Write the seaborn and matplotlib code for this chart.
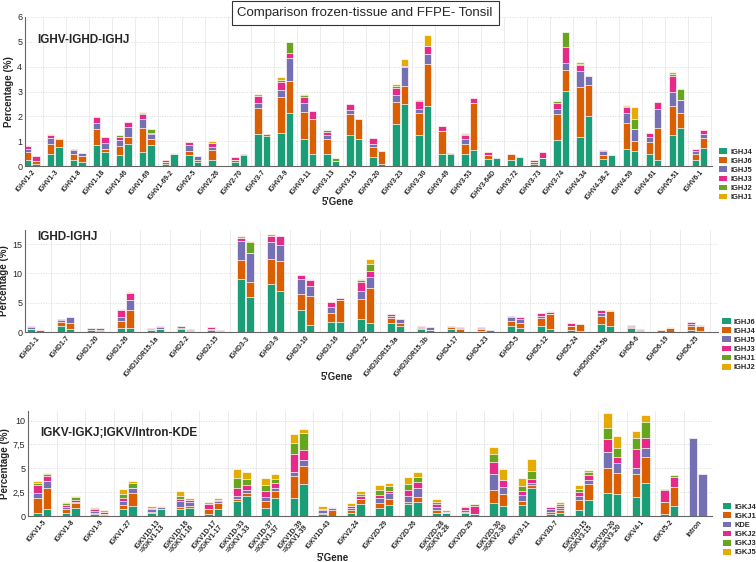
import numpy as np
import pandas as pd
import seaborn as sns
import matplotlib.pyplot as plt
from matplotlib.patches import Patch

sns.set_theme(style='white')
plt.rcParams['font.family'] = ['Liberation Sans', 'DejaVu Sans']

colors = ['#1b9e77', '#d95f02', '#7570b3', '#e7298a', '#66a61e', '#e6ab02']
samples = ['frozen', 'FFPE']

# ---- panel 1: IGHV-IGHD-IGHJ ----
p1_genes = ['IGHV1-2', 'IGHV1-3', 'IGHV1-8', 'IGHV1-18', 'IGHV1-46', 'IGHV1-69', 'IGHV1-69-2',
            'IGHV2-5', 'IGHV2-26', 'IGHV2-70', 'IGHV3-7', 'IGHV3-9', 'IGHV3-11', 'IGHV3-13',
            'IGHV3-15', 'IGHV3-20', 'IGHV3-23', 'IGHV3-30', 'IGHV3-49', 'IGHV3-53', 'IGHV3-64D',
            'IGHV3-72', 'IGHV3-73', 'IGHV3-74', 'IGHV4-34', 'IGHV4-38-2', 'IGHV4-59', 'IGHV4-61',
            'IGHV5-51', 'IGHV6-1']
p1_segments = ['IGHJ4', 'IGHJ6', 'IGHJ5', 'IGHJ3', 'IGHJ2', 'IGHJ1']
# per gene: [segment values] for frozen, FFPE
p1_frozen = [
    [.26, .31, .13, .10, .02, .02], [.50, .40, .23, .11, .02, .01], [.26, .24, .13, .07, 0, 0],
    [.84, .67, .24, .21, 0, .04], [.43, .37, .24, .11, .09, 0], [.57, .97, .34, .20, .07, .03],
    [.10, .06, 0, .07, 0, 0], [.46, .13, .27, .11, 0, 0], [.26, .37, .14, .16, 0, .06],
    [.16, .07, 0, .13, 0, 0], [1.27, 1.05, .23, .27, 0, .06], [1.31, 1.46, .30, .33, .07, .10],
    [1.08, 1.08, .37, .23, .10, .04], [.50, .58, .16, .14, .07, 0], [1.24, .84, .18, .24, 0, 0],
    [.36, .41, .11, .26, 0, 0], [1.68, .91, .25, .32, .08, .07], [1.24, .91, .13, .34, .02, .02],
    [.50, .91, 0, .20, 0, 0], [.50, .40, .17, .17, .04, .03], [.30, .16, 0, .11, 0, 0],
    [.23, .24, 0, 0, 0, .02], [.09, .07, 0, .10, 0, 0], [1.04, 1.05, .19, .25, .09, 0],
    [1.15, 2.05, .61, .24, .06, .07], [.30, .16, .13, .04, 0, 0], [.70, 1.02, .43, .24, .04, .03],
    [.47, .48, .23, .13, 0, 0], [1.24, 1.19, .57, .61, .09, .07], [.26, .24, .11, .09, 0, 0]]
p1_ffpe = [
    [.10, .10, .02, .17, 0, 0], [.75, .35, 0, 0, 0, .02], [.18, .22, .14, 0, 0, 0],
    [.57, .11, .25, .24, 0, 0], [.90, .27, .41, .20, 0, 0], [.84, .23, .20, .04, .20, 0],
    [.50, 0, 0, 0, 0, .02], [.17, .09, .13, 0, 0, 0], [0, 0, 0, 0, 0, 0],
    [.43, .07, 0, 0, 0, 0], [1.22, .06, 0, 0, 0, 0], [2.12, 1.31, .92, .20, .44, 0],
    [.50, 1.38, .02, .33, 0, 0], [.20, 0, 0, 0, .12, 0], [1.08, .80, 0, 0, 0, 0],
    [.10, .51, 0, 0, 0, 0], [2.50, .74, .73, .04, 0, .30], [2.43, 1.68, .38, .36, 0, .41],
    [.47, .06, 0, 0, 0, 0], [.66, 1.87, 0, .20, 0, 0], [.32, 0, 0, 0, 0, 0],
    [.36, 0, 0, 0, 0, 0], [.34, 0, 0, .21, 0, 0], [3.03, .85, .27, .63, .61, 0],
    [2.03, 1.24, .34, 0, 0, 0], [.43, 0, 0, 0, 0, 0], [.61, .40, .46, 0, .41, .48],
    [.26, 1.29, .73, .29, 0, 0], [1.55, .60, .51, 0, .43, 0], [.73, .38, .16, .18, 0, 0]]

# ---- panel 2: IGHD-IGHJ ----
p2_genes = ['IGHD1-1', 'IGHD1-7', 'IGHD1-20', 'IGHD1-26', 'IGHD1/OR15-1a', 'IGHD2-2', 'IGHD2-15',
            'IGHD3-3', 'IGHD3-9', 'IGHD3-10', 'IGHD3-16', 'IGHD3-22', 'IGHD3/OR15-3a',
            'IGHD3/OR15-3b', 'IGHD4-17', 'IGHD4-23', 'IGHD5-5', 'IGHD5-12', 'IGHD5-24',
            'IGHD5/OR15-5b', 'IGHD6-6', 'IGHD6-19', 'IGHD6-25']
p2_segments = ['IGHJ6', 'IGHJ4', 'IGHJ5', 'IGHJ3', 'IGHJ1', 'IGHJ2']
p2_frozen = [
    [.57, 0, .3, .2, 0, 0], [1.0, .65, .45, .2, 0, 0], [.4, 0, .2, 0, 0, 0],
    [.7, 1.2, .65, 1.15, 0, .2], [.35, 0, .2, .15, 0, 0], [.5, .25, .25, 0, 0, 0],
    [.3, .27, 0, .28, 0, 0], [9.0, 3.2, 3.4, .5, 0, .3], [8.2, 4.3, 2.9, 1.0, 0, .4],
    [3.75, 2.75, 2.6, .55, 0, 0], [1.7, 1.5, 1.1, .76, 0, 0], [2.3, 3.3, 1.45, 1.55, .3, .2],
    [1.5, .9, .4, .3, 0, 0], [.45, .25, .15, .15, 0, 0], [.57, .28, .15, .1, 0, 0],
    [.2, .37, .1, .18, 0, 0], [1.1, .7, .7, .3, 0, 0], [1.1, 1.3, .4, .4, 0, 0],
    [.35, .65, .1, .5, 0, 0], [1.3, 1.5, .5, .4, 0, 0], [.7, .2, .15, .15, 0, 0],
    [0, .4, 0, 0, 0, 0], [.3, .7, .35, .35, 0, 0]]
p2_ffpe = [
    [0, .3, 0, 0, 0, 0], [.5, 1.0, 1.05, 0, 0, 0], [.25, .15, .35, 0, 0, 0],
    [.75, 3.05, 1.6, 1.2, 0, .3], [.5, 0, .3, .2, 0, 0], [.1, .3, .1, .07, 0, 0],
    [0, .22, .1, .08, 0, 0], [6.0, 2.5, 4.9, 0, 1.9, .3], [7.0, 5.1, 2.8, 1.5, 0, 0],
    [1.2, 4.95, 1.65, 1.1, 0, .2], [1.7, 3.76, 0, .29, 0, 0], [1.5, 5.95, 1.85, 1.1, 1.2, .9],
    [1.0, .5, .8, 0, 0, 0], [.3, 0, .6, 0, 0, 0], [0, .45, .2, .2, 0, 0],
    [0, 0, .4, 0, 0, 0], [.7, .9, .55, .4, 0, 0], [.57, 2.53, 0, .3, 0, .1],
    [.15, 1.15, 0, .1, 0, 0], [1.0, 2.6, 0, 0, 0, .15], [.2, .15, .15, 0, 0, 0],
    [0, .7, 0, 0, 0, .15], [.15, .85, 0, .2, 0, 0]]

# ---- panel 3: IGKV-IGKJ;IGKV/Intron-KDE ----
p3_genes = ['IGKV1-5', 'IGKV1-8', 'IGKV1-9', 'IGKV1-27', 'IGKV1D-13\n=IGKV1-13',
            'IGKV1D-16\n=IGKV1-16', 'IGKV1D-17\n=IGKV1-17', 'IGKV1D-33\n=IGKV1-33',
            'IGKV1D-37\n=IGKV1-37', 'IGKV1D-39\n=IGKV1-39', 'IGKV1D-43', 'IGKV2-24',
            'IGKV2D-29', 'IGKV2D-26', 'IGKV2D-28\n=IGKV2-28', 'IGKV2D-29',
            'IGKV2D-30\n=IGKV2-30', 'IGKV3-11', 'IGKV3D-7', 'IGKV3D-15\n=IGKV3-15',
            'IGKV3D-20\n=IGKV3-20', 'IGKV4-1', 'IGKV5-2', 'Intron']
p3_segments = ['IGKJ4', 'IGKJ1', 'KDE', 'IGKJ2', 'IGKJ3', 'IGKJ5']
p3_frozen = [
    [.35, 1.55, .5, .8, .25, .25], [.28, .42, .25, .25, .2, .1], [.17, .18, .15, .2, .16, .11],
    [.75, .45, .4, .3, .45, .45], [.28, .17, .25, .16, 0, .17], [.7, .27, .58, .28, .24, .53],
    [.17, .58, 0, .53, 0, .22], [1.55, .25, .34, .79, 1.1, .87], [.86, .69, .42, .63, .6, .83],
    [1.9, 2.24, .52, 1.79, 1.21, .96], [.2, .15, .28, .14, 0, .33], [.28, .32, .2, .2, 0, .34],
    [.8, .54, .53, .28, .6, .55], [1.25, .25, .55, .67, .68, .7], [.35, .27, .28, .4, .18, .35],
    [.35, .1, .17, .35, 0, .1], [1.38, 1.31, 1.72, 1.21, .86, .76], [1.14, .45, .58, .45, .52, .83],
    [.2, .25, .24, .21, 0, .07], [.62, 1.04, .41, .45, .27, .41], [2.45, 2.58, 1.63, 1.37, 1.14, 1.6],
    [2.0, 2.41, .62, 1.94, 1.2, .69], [.2, 1.28, 0, 1.21, .17, 0], [0, 0, 8.2, 0, 0, 0]]
p3_ffpe = [
    [.75, 2.15, .8, .45, .25, .15], [.86, .52, .12, .2, .3, .05], [.07, .18, 0, .2, 0, .15],
    [1.1, 1.3, .5, 0, .55, .25], [.7, 0, .23, 0, 0, .17], [.86, .17, .42, .2, 0, .25],
    [.75, .63, .24, .1, 0, .18], [2.14, .26, .36, .52, .58, .79], [1.9, .7, .33, .52, .41, .54],
    [3.34, 1.94, .58, 1.04, 1.82, .42], [0, .63, .25, 0, 0, .07], [1.27, .49, 0, .34, .2, .3],
    [1.16, .64, .6, .24, .53, .28], [1.48, .54, .93, .6, .55, .52], [.3, 0, .15, 0, 0, .17],
    [.2, 0, 0, .83, .21, 0], [1.03, 1.25, .75, .76, 0, 1.14], [2.93, .27, .25, .45, .86, 1.21],
    [.28, .34, .24, .21, .17, .24], [1.72, 1.66, .41, .55, .32, .17], [2.34, 2.14, 1.04, .68, .97, 1.21],
    [3.45, 2.75, .9, 1.07, 1.73, .7], [1.03, 2.0, 0, 1.04, .27, 0], [0, 0, 4.4, 0, 0, 0]]


def long_table(frozen, ffpe, segments):
    rows = []
    for i in range(len(frozen)):
        for s, vals in zip(samples, [frozen[i], ffpe[i]]):
            cum = np.cumsum(vals)
            for k, seg in enumerate(segments):
                rows.append({'gene': i, 'sample': s, 'segment': seg, 'top': cum[k]})
    return pd.DataFrame(rows)


def panel(ax, genes, frozen, ffpe, segments, title, width, title_y, legend_y, legend_x):
    df = long_table(frozen, ffpe, segments)
    n = len(genes)
    # draw cumulative tops from the highest segment down so lower ones sit on top
    for k in range(len(segments) - 1, -1, -1):
        sub = df[df['segment'] == segments[k]]
        sns.barplot(data=sub, x='gene', y='top', hue='sample', order=list(range(n)),
                    hue_order=samples, palette=[colors[k], colors[k]], width=width, gap=0.12,
                    dodge=True, legend=False, edgecolor='white', linewidth=0.5,
                    saturation=1, ax=ax)
    ax.set_xticks(range(n))
    ax.set_xticklabels(genes, rotation=50, ha='right', rotation_mode='anchor',
                       fontsize=4.9, fontweight='bold', multialignment='right',
                       linespacing=0.95)
    ax.set_xticks(np.arange(n) + 0.5, minor=True)
    ax.tick_params(axis='x', which='both', length=0, pad=2)
    ax.tick_params(axis='y', length=0, labelsize=6.5, pad=2)
    ax.grid(which='minor', axis='x', color='#ececec', lw=0.7)
    ax.grid(which='major', axis='y', color='#dcdcdc', lw=0.7, ls=':')
    ax.set_axisbelow(True)
    for sp in ['top', 'right']:
        ax.spines[sp].set_visible(False)
    for sp in ['left', 'bottom']:
        ax.spines[sp].set_color('#666666')
        ax.spines[sp].set_linewidth(0.8)
    ax.set_ylabel('Percentage (%)', fontsize=7, fontweight='bold', labelpad=2)
    ax.set_xlabel("5'Gene", fontsize=7, fontweight='bold')
    ax.text(0.018, title_y, title, transform=ax.transAxes, fontsize=8.5,
            fontweight='bold', va='center', ha='left')
    handles = [Patch(facecolor=colors[k], edgecolor='none', label=segments[k])
               for k in range(len(segments))]
    ax.legend(handles=handles, loc='upper left', bbox_to_anchor=(legend_x, legend_y),
              frameon=False, prop={'size': 5.4, 'weight': 'bold'}, handlelength=1.1,
              handleheight=0.8, labelspacing=0.22, borderaxespad=0, borderpad=0.2,
              handletextpad=0.4)


fig = plt.figure(figsize=(7.56, 5.62), dpi=100)
ax1 = fig.add_axes([25 / 756, 1 - 166 / 562, 687 / 756, 149 / 562])
ax2 = fig.add_axes([25 / 756, 1 - 332 / 562, 693 / 756, 102 / 562])
ax3 = fig.add_axes([28 / 756, 1 - 516 / 562, 684 / 756, 105 / 562])

panel(ax1, p1_genes, p1_frozen, p1_ffpe, p1_segments, 'IGHV-IGHD-IGHJ', 0.72, 0.846, 0.13, 1.008)
ax1.set_xlim(-0.3, 29.55)
ax1.set_ylim(0, 6)
ax1.set_yticks(range(0, 7))
ax1.xaxis.set_label_coords(0.455, -0.21)

panel(ax2, p2_genes, p2_frozen, p2_ffpe, p2_segments, 'IGHD-IGHJ', 0.6, 0.93, 0.15, 1.004)
ax2.set_xlim(-0.35, 22.75)
ax2.set_ylim(0, 17.4)
ax2.set_yticks([0, 5, 10, 15])
ax2.xaxis.set_label_coords(0.45, -0.39)

panel(ax3, p3_genes, p3_frozen, p3_ffpe, p3_segments, 'IGKV-IGKJ;IGKV/Intron-KDE', 0.66, 0.79,
      0.135, 1.014)
ax3.set_xlim(-0.5, 23.5)
ax3.set_ylim(0, 11)
ax3.set_yticks([0, 2.5, 5, 7.5, 10])
ax3.set_yticklabels(['0', '2,5', '5', '7,5', '10'])
ax3.xaxis.set_label_coords(0.446, -0.35)

fig.text(0.483, 0.977, 'Comparison frozen-tissue and FFPE- Tonsil', ha='center', va='center',
         fontsize=9.5, bbox=dict(boxstyle='square,pad=0.45', facecolor='white',
                                 edgecolor='#333333', linewidth=0.8))

fig.savefig('out.png', dpi=100)
